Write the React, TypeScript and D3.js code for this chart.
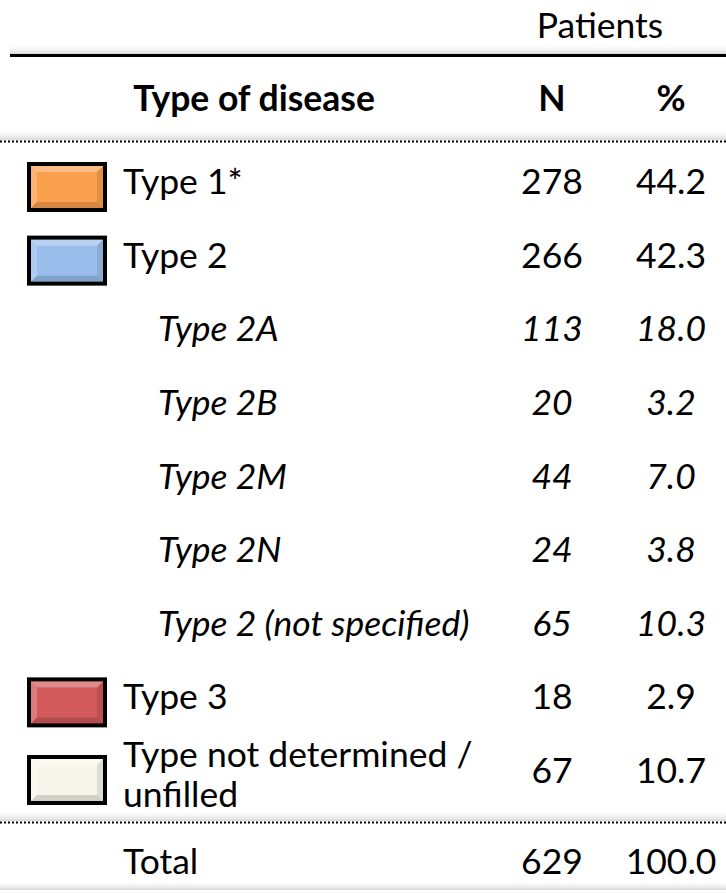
import React from 'react';
import * as d3 from 'd3';

const labels = ['Type 1*', 'Type 2', 'Type 2A', 'Type 2B', 'Type 2M', 'Type 2N', 'Type 2 (not specified)', 'Type 3', 'Type not determined /|unfilled'];
const nValues = [278, 266, 113, 20, 44, 24, 65, 18, 67];
const pctValues = ['44.2', '42.3', '18.0', '3.2', '7.0', '3.8', '10.3', '2.9', '10.7'];
const isSubtype = [false, false, true, true, true, true, true, false, false];
const swatchColors = ['#F9A04F', '#9BBFEC', '#D25A5A', '#F8F6EA'];
const swatchRows = [0, 1, 7, 8];
const totalN = 629;
const totalPct = '100.0';

const W = 726;
const H = 894;
const font = 'Lato, "Open Sans", sans-serif';

const App = () => {
    // row index -> text baseline
    const y = d3.scaleLinear().domain([0, 8]).range([194, 783]);
    const colN = 552;
    const colPct = 671;
    const fs = 35.5;

    const swatchFor = (row: number) => {
        const k = swatchRows.indexOf(row);
        return k < 0 ? null : swatchColors[k];
    };

    return (
        <svg width={W} height={H} style={{ position: 'absolute', left: 0, top: 0 }} fontFamily={font}>
            <defs>
                <linearGradient id="shade" x1="0" y1="0" x2="0" y2="1">
                    <stop offset="0" stopColor="#fff" stopOpacity={0} />
                    <stop offset="1" stopColor="#d9d9d9" />
                </linearGradient>
            </defs>
            <rect width={W} height={H} fill="#fff" />

            <text x={600} y={38} fontSize={fs} textAnchor="middle" fill="#000">Patients</text>
            <rect x={10} y={44} width={W - 10} height={10} fill="url(#shade)" />
            <line x1={10} x2={W} y1={55.5} y2={55.5} stroke="#000" strokeWidth={3} />

            <g fontWeight="bold" fontSize={fs} textAnchor="middle" fill="#000">
                <text x={254} y={111}>Type of disease</text>
                <text x={colN} y={111}>N</text>
                <text x={colPct} y={111}>%</text>
            </g>
            <rect x={0} y={128} width={W} height={12} fill="url(#shade)" />
            <line x1={0} x2={W} y1={141.5} y2={141.5} stroke="#000" strokeWidth={2} strokeDasharray="2,2" />

            {labels.map((lab, i) => {
                const col = swatchFor(i);
                const base = y(i);
                const italic = isSubtype[i];
                const lines = lab.split('|');
                const cy = lines.length > 1 ? base - 3 : base - 7;
                return (
                    <g key={lab}>
                        {col && (
                            <g>
                                <rect x={29} y={cy - 23} width={76} height={46} fill={col} stroke="#000" strokeWidth={4} />
                                <polygon points={`${31},${cy - 21} ${103},${cy - 21} ${97},${cy - 15} ${37},${cy - 15}`} fill="#fff" opacity={0.3} />
                                <polygon points={`${31},${cy - 21} ${37},${cy - 15} ${37},${cy + 15} ${31},${cy + 21}`} fill="#fff" opacity={0.2} />
                                <polygon points={`${103},${cy - 21} ${103},${cy + 21} ${97},${cy + 15} ${97},${cy - 15}`} fill="#000" opacity={0.1} />
                                <polygon points={`${31},${cy + 21} ${103},${cy + 21} ${97},${cy + 15} ${37},${cy + 15}`} fill="#000" opacity={0.15} />
                            </g>
                        )}
                        <g fontSize={fs} fill="#000" fontStyle={italic ? 'italic' : 'normal'}>
                            {lines.length > 1 ? (
                                <>
                                    <text x={123} y={base - 16}>{lines[0]}</text>
                                    <text x={123} y={base + 24}>{lines[1]}</text>
                                </>
                            ) : (
                                <text x={italic ? 158 : 123} y={base}>{lab}</text>
                            )}
                            <text x={colN} y={base} textAnchor="middle">{nValues[i]}</text>
                            <text x={colPct} y={base} textAnchor="middle">{pctValues[i]}</text>
                        </g>
                    </g>
                );
            })}

            <rect x={0} y={810} width={W} height={11} fill="url(#shade)" />
            <line x1={0} x2={W} y1={822.5} y2={822.5} stroke="#000" strokeWidth={2} strokeDasharray="2,2" />

            <g fontSize={fs} fill="#000">
                <text x={123} y={874}>Total</text>
                <text x={colN} y={874} textAnchor="middle">{totalN}</text>
                <text x={colPct} y={874} textAnchor="middle">{totalPct}</text>
            </g>
            <rect x={0} y={880} width={W} height={10} fill="url(#shade)" />
        </svg>
    );
};

export default App;
